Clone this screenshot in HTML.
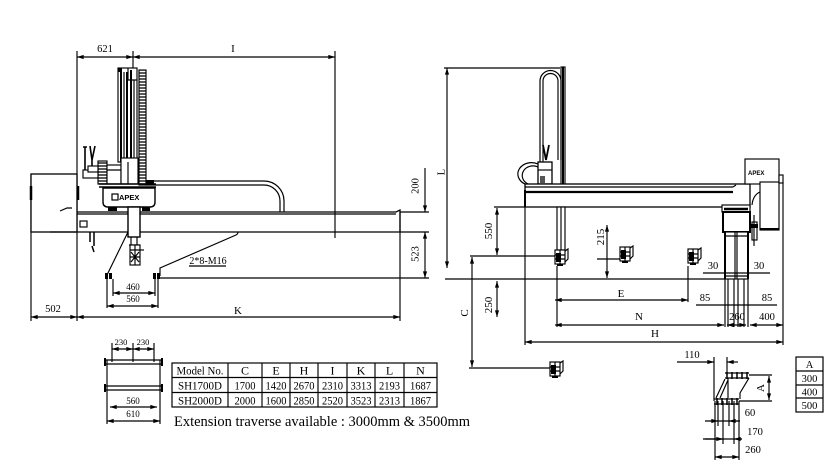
<!DOCTYPE html>
<html><head><meta charset="utf-8"><style>html,body{margin:0;padding:0;background:#fff}svg{display:block}.d{marker-start:url(#ar);marker-end:url(#ar)}.e{marker-end:url(#ar)}text{fill:#000;stroke:none}</style></head>
<body>
<svg xmlns="http://www.w3.org/2000/svg" width="834" height="473" viewBox="0 0 834 473" font-family="'Liberation Serif', serif" fill="none" stroke="#000" stroke-width="1.15">
<defs>
<marker id="ar" viewBox="0 0 8 6" refX="8" refY="3" markerWidth="7" markerHeight="5" orient="auto-start-reverse" markerUnits="userSpaceOnUse"><path d="M0,0.5L8,3L0,5.5z" fill="#000" stroke="none"/></marker>
<pattern id="hat" width="6" height="3" patternUnits="userSpaceOnUse"><rect width="6" height="3" fill="#fff" stroke="none"/><line x1="0" y1="1" x2="6" y2="1" stroke="#000" stroke-width="1.3"/></pattern>
<g id="gr">
<rect x="0" y="1" width="10" height="14" fill="#fff"/>
<rect x="1" y="4" width="5" height="9" fill="#000" stroke="none"/>
<path d="M0,6H10 M0,10H10 M5,1V15"/>
<path d="M10,2L13,0V10L10,13"/>
<rect x="2" y="15" width="6" height="2" fill="#000" stroke="none"/>
</g>
</defs>

<!-- ============ LEFT VIEW ============ -->
<path d="M77,51V321 M133,51V68 M335,51V238 M31,174V321 M400,212V321 M400,212H429 M400,232H429 M160,278H429"/>
<path class="d" d="M77,57H133"/>
<path class="d" d="M133,57H335"/>
<path class="e" d="M425,168V212"/>
<path class="d" d="M425,232V278"/>
<text x="105" y="52" font-size="10.5" text-anchor="middle">621</text>
<text x="233" y="52" font-size="11" text-anchor="middle">I</text>
<text transform="translate(415,186) rotate(-90)" y="3.5" font-size="10.5" text-anchor="middle">200</text>
<text transform="translate(415,254) rotate(-90)" y="3.5" font-size="10.5" text-anchor="middle">523</text>

<!-- column -->
<rect x="118" y="68" width="19" height="94" fill="#fff"/>
<path d="M121,70V162 M127,72V162 M131,70V162" stroke-width="2"/>
<path d="M124,72V162 M134,80V162 M128,68V80H137"/>
<rect x="118" y="68" width="4" height="4" fill="#000" stroke="none"/>
<rect x="139" y="70" width="7" height="115" fill="url(#hat)"/>
<!-- carriage -->
<rect x="98" y="161" width="9" height="23" fill="url(#hat)"/>
<rect x="107" y="165" width="14" height="19" fill="#fff"/>
<rect x="121" y="158" width="17" height="26" fill="#fff"/>
<path d="M128,162V184 M107,170H121"/>
<path d="M99,184H156 M99,187H156" stroke-width="1.5"/>
<rect x="146" y="180" width="8" height="5" fill="#000" stroke="none"/>
<!-- tools -->
<path d="M85,147V172 M83,147H87 M90,146L92,160L95,146 M92,160V170" stroke-width="1.6"/>
<rect x="83" y="170" width="15" height="8" fill="#fff"/>
<rect x="88" y="166" width="10" height="6" fill="#fff"/>
<!-- logo box -->
<path d="M103,188H155V202Q155,207 150,207H108Q103,207 103,202Z" fill="#fff" stroke-width="1.4"/>
<rect x="112" y="194" width="6" height="6" fill="#fff" stroke-width="1.2"/>
<text x="119" y="200" font-size="7.5" font-weight="bold" font-family="'Liberation Sans', sans-serif">APEX</text>
<rect x="108" y="207" width="9" height="4" fill="#000" stroke="none"/>
<rect x="142" y="207" width="8" height="4" fill="#000" stroke="none"/>
<!-- cable chain -->
<path d="M146,181H264A20,20 0 0 1 284,201V212" stroke-width="1.2"/>
<path d="M146,185H264A16,16 0 0 1 280,201V212" stroke-width="1.2"/>
<!-- left box -->
<rect x="31" y="174" width="46" height="58" fill="#fff" stroke-width="1.3"/>
<path d="M31,186V200 M78,186V200" stroke-width="2.5"/>
<!-- beam -->
<path d="M77,212H396L400,210V232H50" stroke-width="1.3"/>
<path d="M77,214H396" />
<path d="M60,211L67,208H72" />
<rect x="80" y="221" width="7" height="6"/>
<path d="M90,232V242 M94,232V246 M92,246L94,252" stroke-width="1.5"/>
<!-- arm -->
<rect x="128" y="207" width="12" height="30" fill="#fff" stroke-width="1.4"/>
<path d="M131,237V245 M137,237V245 M129,245H140"/>
<rect x="130" y="245" width="10" height="20" fill="#fff"/>
<path d="M130,250H140 M130,257H140 M135,245V265 M131,252L139,262 M139,252L131,262"/>
<path d="M140,250H144"/>
<!-- leaders -->
<path d="M107,275L128,232"/>
<path d="M160,276V268L236,235Q238,234 238,232"/>
<path d="M189,266H226"/>
<text x="208" y="264" font-size="10" text-anchor="middle">2*8-M16</text>
<!-- feet -->
<rect x="105" y="273" width="3" height="6" fill="#000" stroke="none"/>
<rect x="109" y="273" width="3" height="6" fill="#000" stroke="none"/>
<rect x="153" y="273" width="3" height="6" fill="#000" stroke="none"/>
<rect x="157" y="273" width="3" height="6" fill="#000" stroke="none"/>
<path d="M107,279V308 M113,279V296 M155,279V296 M158,279V308"/>
<path class="d" d="M113,293H155"/>
<path class="d" d="M107,306H158"/>
<text x="133" y="290" font-size="9" text-anchor="middle">460</text>
<text x="133" y="302" font-size="9" text-anchor="middle">560</text>
<path class="d" d="M31,317H77"/>
<path class="d" d="M77,317H400"/>
<text x="53" y="312" font-size="10.5" text-anchor="middle">502</text>
<text x="238" y="314" font-size="11" text-anchor="middle">K</text>

<!-- ============ RIGHT VIEW ============ -->
<path d="M444,68H560 M445,279H725"/>
<path class="d" d="M447,68V268"/>
<text transform="translate(441,172) rotate(-90)" y="3.5" font-size="10.5" text-anchor="middle">L</text>
<!-- column -->
<rect x="561" y="67" width="4" height="118" fill="#fff"/>
<path d="M563,67V185" stroke-width="2"/>
<!-- cable loop -->
<path d="M540,162V81A10.5,10.5 0 0 1 561,81V160" stroke-width="1.2"/>
<path d="M543,162V81A7.5,7.5 0 0 1 558,81V160" />
<path d="M543,145L546,160L549,145" stroke-width="1.8"/>
<!-- carriage -->
<rect x="538" y="162" width="14" height="22" fill="#fff" stroke-width="1.3"/>
<path d="M538,170H552"/>
<rect x="540" y="176" width="5" height="7" fill="#555" stroke="none"/>
<path d="M538,164A12,10 0 0 0 525,184" stroke-width="1.2"/>
<path d="M538,167A9,8 0 0 0 528,184" />
<!-- beam -->
<rect x="525" y="184" width="225" height="23" fill="#fff" stroke-width="1.3"/>
<path d="M525,187H733"/>
<path d="M525,192H733" stroke-width="2.2"/>
<path d="M525,190V207" stroke-width="2"/>
<path d="M733,187L736,185"/>
<!-- right motor -->
<rect x="745" y="159" width="34" height="25" fill="#fff"/>
<text x="748" y="175" font-size="6" font-weight="bold" font-family="'Liberation Sans', sans-serif">APEX</text>
<rect x="760" y="182" width="19" height="48" fill="#fff"/>
<path d="M760,229H779" stroke-width="2"/>
<rect x="779" y="175" width="4" height="8" fill="#fff"/>
<path d="M760,192Q753,195 752,205"/>
<path d="M783,182V345"/>
<!-- right carriage -->
<rect x="722" y="205" width="28" height="7" fill="#fff"/>
<path d="M724,209H748" stroke-width="2.5"/>
<rect x="723" y="212" width="27" height="20" fill="#fff" stroke-width="2"/>
<rect x="725" y="232" width="23" height="47" fill="#fff"/>
<path d="M725,232V279 M748,232V279" stroke-width="2"/>
<path d="M735,232V279 M737,232V279 M725,276H748 M725,236H748"/>
<rect x="752" y="222" width="5" height="18" fill="#fff"/>
<path d="M754,215V246" />
<rect x="751" y="224" width="7" height="4" fill="#000" stroke="none"/>
<!-- left arm -->
<rect x="557" y="207" width="8" height="43" fill="#fff"/>
<path d="M561,207V250"/>
<use href="#gr" x="555" y="249"/>
<use href="#gr" x="620" y="246"/>
<use href="#gr" x="688" y="248"/>
<use href="#gr" x="550" y="361"/>
<!-- dims -->
<path d="M494,207H525 M470,256H555 M597,259H620 M469,368H550 M525,207V345 M557,266V327 M688,266V302"/>
<path d="M725,279V327 M728,279V327 M734,279V327 M738,279V327 M744,279V327 M748,279V327"/>
<path class="d" d="M497,208V255"/>
<path class="d" d="M497,281V317"/>
<path class="d" d="M472,257V367"/>
<path class="d" d="M607,225V278"/>
<path class="d" d="M555,300H688"/>
<path class="d" d="M555,325H724"/>
<path class="d" d="M727,325H746"/>
<path class="d" d="M750,325H783"/>
<path class="d" d="M525,342H783"/>
<path d="M696,305H777 M703,273H770"/>
<text transform="translate(488,231) rotate(-90)" y="4" font-size="11" text-anchor="middle">550</text>
<text transform="translate(488,305) rotate(-90)" y="4" font-size="11" text-anchor="middle">250</text>
<text transform="translate(600,237) rotate(-90)" y="4" font-size="11" text-anchor="middle">215</text>
<text transform="translate(464,313) rotate(-90)" y="4" font-size="11" text-anchor="middle">C</text>
<text x="713" y="269" font-size="10.5" text-anchor="middle">30</text>
<text x="759" y="269" font-size="10.5" text-anchor="middle">30</text>
<text x="705" y="301" font-size="10.5" text-anchor="middle">85</text>
<text x="767" y="301" font-size="10.5" text-anchor="middle">85</text>
<text x="621" y="297" font-size="11" text-anchor="middle">E</text>
<text x="639" y="320" font-size="11" text-anchor="middle">N</text>
<text x="737" y="320" font-size="10.5" text-anchor="middle">260</text>
<text x="767" y="320" font-size="10.5" text-anchor="middle">400</text>
<text x="655" y="337" font-size="11" text-anchor="middle">H</text>

<!-- ============ BOTTOM LEFT SMALL ============ -->
<text x="121" y="345" font-size="8.5" text-anchor="middle">230</text>
<text x="143" y="345" font-size="8.5" text-anchor="middle">230</text>
<path d="M112,343V362 M133,343V362 M154,343V362"/>
<path class="d" d="M112,349H133"/>
<path class="d" d="M133,349H154"/>
<path d="M104,360H163 M104,364H163 M104,386H163 M104,390H163" stroke-width="1.2"/>
<path d="M105,358V366 M162,358V366 M105,384V392 M162,384V392" stroke-width="2"/>
<path d="M107,360V424 M160,360V424"/>
<path class="d" d="M110,407H157"/>
<path class="d" d="M107,421H160"/>
<text x="133" y="404" font-size="9" text-anchor="middle">560</text>
<text x="133" y="417" font-size="9" text-anchor="middle">610</text>

<!-- table -->
<rect x="172" y="363" width="265" height="44" stroke-width="1.2"/>
<path d="M172,377.5H437 M172,392.5H437 M228,363V407 M262,363V407 M290,363V407 M318,363V407 M347,363V407 M375,363V407 M404,363V407"/>
<g font-size="12" text-anchor="middle">
<text x="200" y="374.5" textLength="47" lengthAdjust="spacingAndGlyphs">Model No.</text>
<text x="245" y="374.5">C</text><text x="276" y="374.5">E</text><text x="304" y="374.5">H</text><text x="332.5" y="374.5">I</text><text x="361" y="374.5">K</text><text x="389.5" y="374.5">L</text><text x="420.5" y="374.5">N</text>
<text x="200" y="389.5" textLength="44" lengthAdjust="spacingAndGlyphs">SH1700D</text>
<text x="245" y="389.5" textLength="21" lengthAdjust="spacingAndGlyphs">1700</text>
<text x="276" y="389.5" textLength="21" lengthAdjust="spacingAndGlyphs">1420</text>
<text x="304" y="389.5" textLength="21" lengthAdjust="spacingAndGlyphs">2670</text>
<text x="332.5" y="389.5" textLength="21" lengthAdjust="spacingAndGlyphs">2310</text>
<text x="361" y="389.5" textLength="21" lengthAdjust="spacingAndGlyphs">3313</text>
<text x="389.5" y="389.5" textLength="21" lengthAdjust="spacingAndGlyphs">2193</text>
<text x="420.5" y="389.5" textLength="21" lengthAdjust="spacingAndGlyphs">1687</text>
<text x="200" y="404.5" textLength="44" lengthAdjust="spacingAndGlyphs">SH2000D</text>
<text x="245" y="404.5" textLength="21" lengthAdjust="spacingAndGlyphs">2000</text>
<text x="276" y="404.5" textLength="21" lengthAdjust="spacingAndGlyphs">1600</text>
<text x="304" y="404.5" textLength="21" lengthAdjust="spacingAndGlyphs">2850</text>
<text x="332.5" y="404.5" textLength="21" lengthAdjust="spacingAndGlyphs">2520</text>
<text x="361" y="404.5" textLength="21" lengthAdjust="spacingAndGlyphs">3523</text>
<text x="389.5" y="404.5" textLength="21" lengthAdjust="spacingAndGlyphs">2313</text>
<text x="420.5" y="404.5" textLength="21" lengthAdjust="spacingAndGlyphs">1867</text>
</g>
<text x="174" y="426" font-size="14.5" textLength="296" lengthAdjust="spacingAndGlyphs">Extension traverse available : 3000mm &amp; 3500mm</text>

<!-- ============ BOTTOM RIGHT ============ -->
<text x="692" y="358" font-size="10.5" text-anchor="middle">110</text>
<path class="e" d="M677,362H714"/>
<path class="e" d="M738,362H727"/>
<path d="M714,357V401 M727,357V375"/>
<path d="M725,373H749 M725,378H749 M714,399H739 M714,404H739" stroke-width="1.2"/>
<path d="M727,372V379 M732,372V379 M737,372V379 M742,372V379 M747,372V379 M717,398V405 M722,398V405 M727,398V405 M732,398V405 M737,398V405" stroke-width="1.5"/>
<path d="M716,398L725,379 M720,398L728,380 M728,378V398 M749,378L740,393V399"/>
<path d="M749,375H772 M739,401H772"/>
<path class="d" d="M769,376V400"/>
<text transform="translate(760,388) rotate(-90)" y="4" font-size="11" text-anchor="middle">A</text>
<path d="M715,401V460 M718,401V426 M723,401V444 M729,401V426 M734,401V444 M739,401V460"/>
<path d="M705,421H740 M703,439H742"/>
<path class="e" d="M710,421H718"/><path class="e" d="M740,421H729"/>
<path class="e" d="M705,439H723"/><path class="e" d="M742,439H734"/>
<path class="d" d="M715,457H739"/>
<text x="750" y="416" font-size="10.5" text-anchor="middle">60</text>
<text x="755" y="435" font-size="10.5" text-anchor="middle">170</text>
<text x="753" y="453" font-size="10.5" text-anchor="middle">260</text>
<!-- A table -->
<rect x="796" y="357" width="27" height="55" stroke-width="1.2"/>
<path d="M796,371H823 M796,385H823 M796,398H823"/>
<g font-size="10.5" text-anchor="middle">
<text x="809.5" y="368">A</text>
<text x="809.5" y="382">300</text>
<text x="809.5" y="395.5">400</text>
<text x="809.5" y="409">500</text>
</g>
</svg>
</body></html>
